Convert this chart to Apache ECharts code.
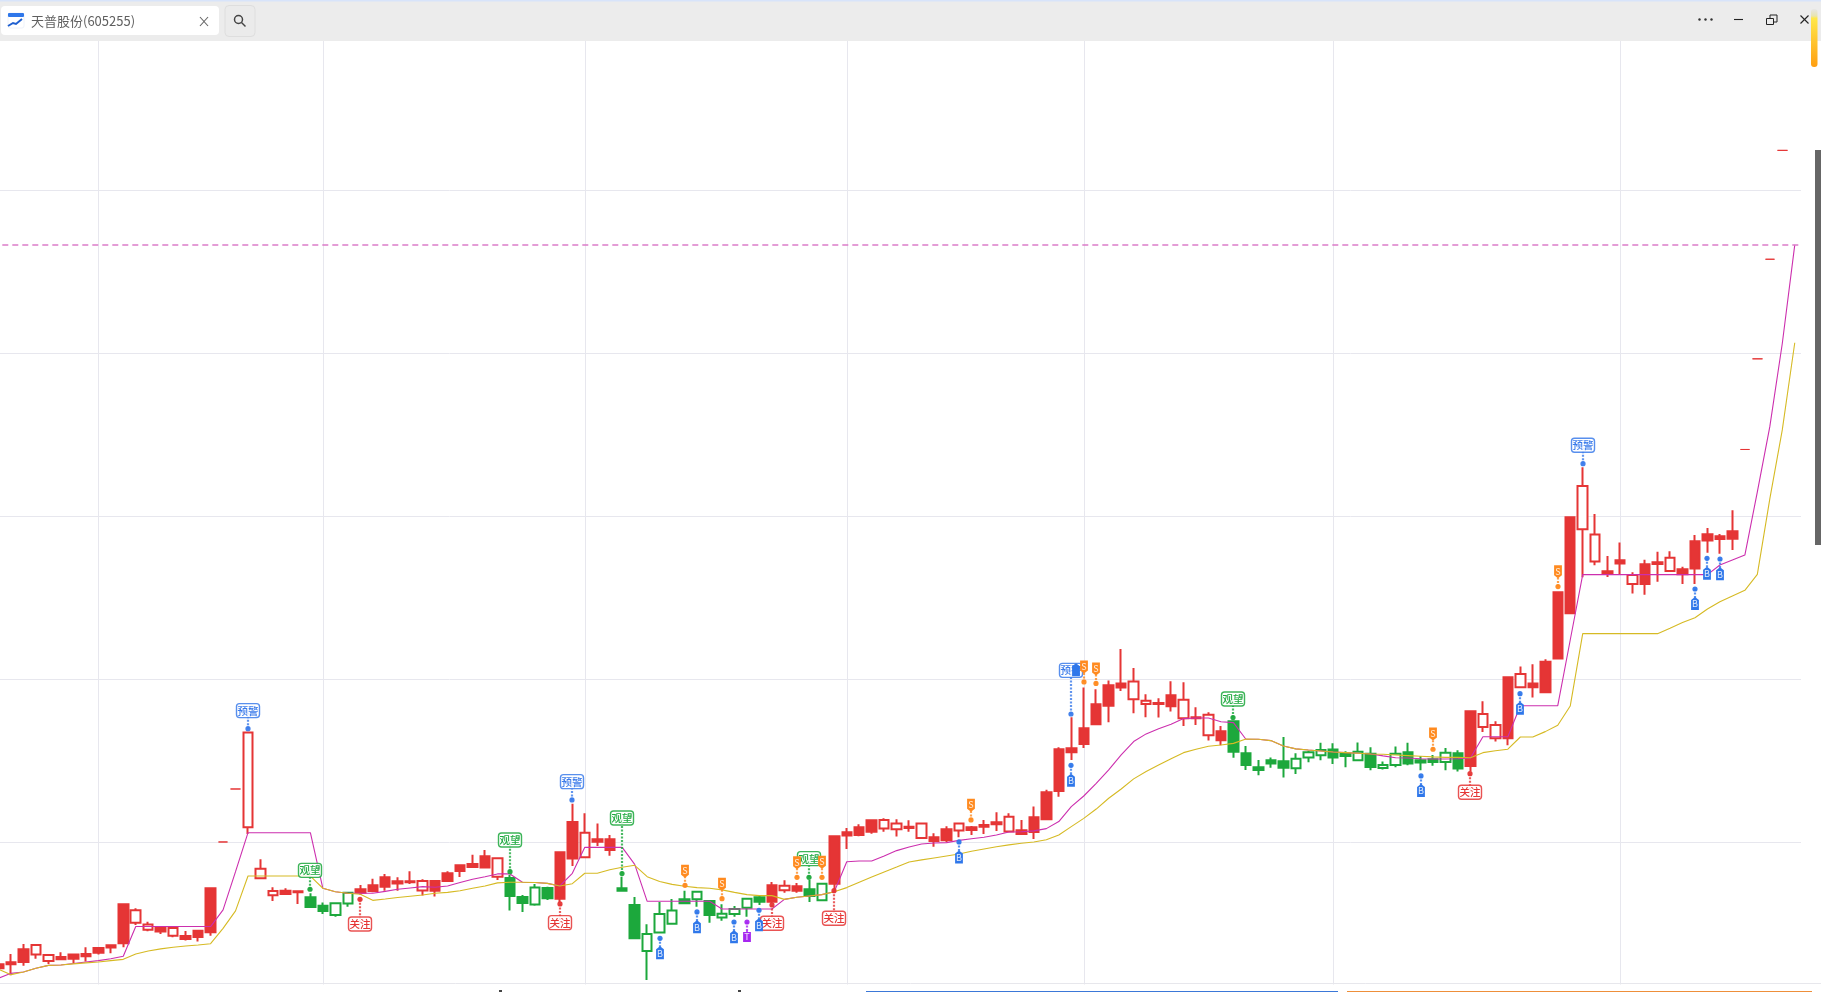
<!DOCTYPE html>
<html>
<head>
<meta charset="utf-8">
<title>天普股份(605255)</title>
<style>html,body{margin:0;padding:0;background:#fff;overflow:hidden}#main{width:1821px;height:992px}</style>
<script src="https://cdn.jsdelivr.net/npm/echarts@6/dist/echarts.min.js"></script>
</head>
<body>
<div id="main"></div>
<script>
const stockTitle = '天普股份(605255)';
const gridDays = [8, 26, 47, 68, 87, 107, 130];
const dashedLevel = 66.65;

const opens = [22.52,22.64,23.44,23.11,22.72,22.97,23.11,23.15,23.52,23.68,
 26.20,25.07,24.64,24.74,24.27,24.25,24.58,27.18,30.02,33.27,
 30.92,27.79,26.75,27.03,26.99,26.63,26.11,25.54,26.24,27.12,
 27.36,27.85,27.61,27.61,27.05,27.63,28.10,28.59,28.67,29.14,
 27.89,27.81,26.65,26.18,27.20,29.39,31.25,29.08,30.18,30.18,
 27.18,26.16,23.33,24.46,25.01,26.50,26.50,26.40,25.38,25.60,
 25.99,26.63,27.36,27.06,27.30,27.12,26.44,30.37,30.61,30.92,
 31.35,30.84,30.80,30.96,30.27,30.31,30.80,30.72,30.92,31.06,
 31.23,30.67,30.74,31.53,33.07,35.71,35.77,36.99,38.47,39.63,
 39.75,38.77,38.49,38.55,39.02,37.61,37.67,36.56,36.81,37.42,
 35.46,34.60,35.03,34.97,34.54,35.21,35.34,35.69,35.42,35.03,
 35.44,34.56,34.74,35.52,35.03,35.09,34.93,35.46,38.04,37.08,
 36.38,40.12,39.51,39.75,41.08,45.34,49.94,49.20,47.22,46.63,
 47.30,45.85,47.06,47.18,46.65,46.75,48.47,48.90,48.77,49.08,
 54.10,59.66,65.77,72.45];
const closes = [22.27,22.52,22.66,23.70,23.09,22.82,22.86,23.01,23.23,23.54,
 23.80,25.83,24.95,24.52,24.74,24.07,24.19,24.48,30.02,33.27,
 36.73,28.38,27.01,26.83,26.93,26.03,25.79,26.26,26.91,26.91,
 27.01,27.28,27.48,27.55,27.63,27.03,27.63,28.24,28.49,28.45,
 29.02,26.71,26.28,27.22,26.56,26.54,29.00,30.59,30.04,29.53,
 27.03,24.11,24.38,25.60,25.81,26.26,26.97,25.54,25.62,25.91,
 26.54,26.36,26.36,27.34,27.03,26.71,27.46,27.46,30.41,30.45,
 30.65,31.37,31.15,30.88,31.15,30.08,30.12,31.15,30.76,30.96,
 31.10,31.57,30.51,30.63,31.41,33.15,35.52,36.03,37.24,38.38,
 39.49,39.86,38.69,38.49,38.34,38.75,37.61,37.83,36.26,35.56,
 34.74,34.44,34.83,34.58,35.13,35.52,35.66,35.21,35.30,35.56,
 34.62,34.74,35.44,34.83,34.89,34.93,35.50,34.52,34.68,37.87,
 37.20,36.38,40.33,39.51,39.20,41.27,44.05,51.86,48.88,46.46,
 47.10,46.40,45.85,47.08,47.46,46.44,46.79,48.51,48.61,48.63,
 54.10,59.66,65.77,72.45];
const lows = [22.17,21.84,22.43,22.86,22.54,22.78,22.58,22.68,23.11,23.19,
 23.56,24.93,24.54,24.38,24.17,23.97,23.91,24.27,30.02,33.27,
 30.51,27.73,26.40,26.77,26.22,26.01,25.60,25.44,26.05,26.77,
 26.93,27.03,27.03,27.44,26.73,26.67,27.59,27.87,28.45,28.43,
 27.69,25.81,25.73,26.11,26.46,26.30,28.55,29.04,29.78,29.18,
 27.03,24.09,21.55,24.42,24.99,26.20,26.05,25.07,25.19,25.44,
 25.44,26.16,26.26,26.91,26.91,26.34,26.38,26.95,29.59,30.37,
 30.53,30.65,30.35,30.65,30.22,29.73,30.02,30.31,30.45,30.51,
 30.70,30.63,30.51,30.20,31.37,32.80,35.05,35.79,37.22,37.36,
 39.28,37.91,37.67,37.65,38.02,37.14,37.20,36.24,35.95,35.19,
 34.44,34.11,34.58,33.97,34.19,34.91,35.03,34.81,34.60,35.01,
 34.42,34.46,34.60,34.72,34.42,34.70,34.42,34.34,34.34,36.77,
 36.18,35.95,39.47,38.88,39.18,41.27,44.03,46.26,46.99,46.28,
 46.42,45.26,45.19,45.99,46.61,45.85,45.85,47.77,47.71,47.93,
 54.10,59.66,65.77,72.45];
const highs = [22.58,23.15,23.76,23.74,23.13,23.25,23.13,23.56,23.58,23.72,
 26.20,25.95,25.13,24.78,24.80,24.56,24.62,27.18,30.02,33.27,
 36.77,28.96,27.24,27.18,26.99,26.87,26.30,26.30,26.95,27.38,
 27.77,28.06,27.85,28.22,27.73,27.67,28.22,28.61,29.24,29.53,
 29.08,28.00,26.77,27.44,27.28,29.39,32.37,31.78,31.15,30.45,
 27.89,26.65,24.97,26.34,26.52,27.03,27.01,26.46,26.20,26.09,
 26.56,26.71,27.57,27.67,27.51,27.69,27.51,30.37,30.88,31.10,
 31.41,31.47,31.41,31.35,31.17,30.55,30.98,31.15,31.00,31.37,
 31.84,31.78,31.37,32.19,33.23,35.83,37.67,39.49,39.39,39.92,
 41.86,40.70,39.08,38.83,39.88,39.82,38.28,37.98,37.14,37.42,
 35.91,35.05,35.21,36.46,35.46,35.62,36.11,36.07,35.58,36.13,
 35.83,34.95,35.87,36.11,35.30,35.36,35.79,35.64,38.04,38.65,
 37.42,40.12,40.78,40.92,41.23,45.34,49.94,53.01,50.14,47.57,
 48.40,46.56,47.34,47.83,47.85,46.91,48.85,49.28,48.92,50.37,
 54.10,59.66,65.77,72.45];
const tones = ('rrrrrrrrrrrrrrrrrrrrrrrrr' + 'gggg' + 'rrrrrrrrrrrr' + 'gggg' + 'rrrrr' +
 'gggggggggggg' + 'rrr' + 'gg' + 'rrrrrrrrrrrrrrrrrrrrrrrrrrrrrrrr' +
 'ggggggggggggggggggg' + 'rrrrrrrrrrrrrrrrrrrrrrrrrr').split('');
const pinkLine = [21.66,21.96,22.04,22.27,22.45,22.47,22.56,22.66,22.74,22.86,
 23.01,24.83,24.83,24.83,24.83,24.83,24.83,24.83,25.85,28.20,
 30.59,30.59,30.59,30.59,30.59,30.59,27.18,26.97,26.87,26.87,
 26.87,26.99,27.12,27.20,27.28,27.24,27.32,27.53,27.73,27.89,
 28.06,28.06,27.55,27.53,27.48,27.32,28.10,29.69,29.69,29.69,
 29.69,28.65,26.38,26.38,26.38,26.38,26.38,26.38,25.91,25.91,
 25.91,25.91,25.91,26.50,26.63,26.71,26.79,26.97,28.81,28.85,
 28.85,29.16,29.49,29.71,29.90,29.96,29.98,30.12,30.22,30.31,
 30.45,30.63,30.65,30.70,30.84,31.27,32.19,32.84,33.62,34.44,
 35.36,36.18,36.65,36.97,37.24,37.59,37.63,37.63,37.40,37.34,
 36.32,36.32,36.24,35.91,35.73,35.66,35.60,35.54,35.50,35.46,
 35.42,35.30,35.19,35.17,35.13,35.11,35.11,35.13,35.17,36.48,
 36.48,36.48,38.38,38.38,38.38,38.38,42.41,46.42,46.42,46.42,
 46.42,46.42,46.42,46.42,46.42,46.42,46.42,46.42,47.01,47.32,
 47.62,51.50,55.50,60.60,66.65];
const yellowLine = [22.21,21.88,22.04,22.27,22.45,22.47,22.54,22.60,22.66,22.74,
 22.82,23.15,23.33,23.46,23.56,23.64,23.70,23.78,24.72,25.79,
 27.93,27.93,27.93,27.93,27.93,27.93,27.18,26.97,26.87,26.81,
 26.44,26.52,26.61,26.69,26.77,26.87,26.93,27.03,27.18,27.32,
 27.51,27.55,27.55,27.53,27.48,27.32,27.46,28.10,28.10,28.32,
 28.47,28.59,27.89,27.59,27.42,27.30,27.22,27.18,27.08,26.93,
 26.79,26.73,26.73,26.50,26.63,26.71,26.79,26.97,27.22,27.55,
 27.87,28.18,28.48,28.79,28.92,29.04,29.16,29.28,29.45,29.59,
 29.73,29.84,29.94,30.02,30.16,30.45,30.96,31.47,32.04,32.70,
 33.27,33.89,34.34,34.74,35.13,35.50,35.71,35.89,35.97,36.07,
 36.34,36.32,36.24,35.91,35.73,35.66,35.60,35.54,35.50,35.46,
 35.42,35.40,35.36,35.32,35.28,35.24,35.21,35.21,35.19,35.50,
 35.62,35.71,36.46,36.46,36.79,37.18,38.36,42.80,42.80,42.80,
 42.80,42.80,42.80,42.80,43.13,43.48,43.78,44.31,44.76,45.11,
 45.46,46.44,51.07,55.30,60.65];

const signalDays  = [20,25,29,41,45,46,50,67,62,65,86,99,118,127,
 53,56,59,60,61,77,114,86,122,136,137,138,86,
 55,58,64,66,78,87,88,115,125];
const signalKinds = ['预警','观望','关注','观望','关注','预警','观望','关注','关注','观望','预警','观望','关注','预警',
 'B','B','B','T','B','B','B','B','B','B','B','B','Bx',
 'S','S','S','S','S','S','S','S','S'];
const signalDots  = [36.97,27.12,26.50,28.20,26.22,32.60,28.08,27.03,26.16,27.85,37.87,37.65,34.21,53.23,
 24.11,25.73,25.11,25.11,25.83,30.02,34.07,34.72,39.12,45.54,47.42,47.38,40.55,
 27.36,26.54,27.85,27.85,31.37,39.84,39.75,35.71,45.69];
const signalTags  = [38.08,28.28,24.99,30.14,25.07,33.72,31.49,25.34,25.03,29.00,40.55,38.79,33.07,54.36,
 23.19,24.79,24.17,24.19,24.91,29.06,33.15,33.78,38.20,44.62,46.48,46.44,40.55,
 28.26,27.46,28.77,28.81,32.31,40.78,40.67,36.67,46.63];

const RED = '#E53535', GREEN = '#1CA83C', PINK = '#CC2FAE', GOLD = '#D6BA24', GRID = '#E7E7EE';
const FONT = '"Noto Sans CJK SC", "Noto Sans", sans-serif';
const kindStyle = {
  '预警': {color:'#3B7BEA', box:true}, '观望': {color:GREEN, box:true}, '关注': {color:RED, box:true},
  'S': {color:'#FF8A1F', pin:'down', text:'S'}, 'B': {color:'#2F77EA', pin:'up', text:'B'},
  'Bx': {color:'#2F77EA', pin:'up', text:'', dx:5}, 'T': {color:'#A626F0', pin:'flat', text:'T'}
};
const categories = pinkLine.map((_, i) => 'D' + i);
const candleData = opens.map((o, i) => {
  const c = tones[i] === 'g' ? GREEN : RED;
  const flat = o === closes[i];
  const fill = closes[i] > o ? '#fff' : c;
  return {
    value: [o, closes[i], lows[i], highs[i]],
    itemStyle: {color:fill, color0:fill, borderColor:c, borderColor0:c, borderColorDoji:c, borderWidth: flat ? 1 : 2}
  };
});
const signalData = signalDays.map((d, i) => [d, signalDots[i], signalTags[i], signalKinds[i]]);

function renderSignal(params, api) {
  const day = api.value(0);
  const kind = signalKinds[params.dataIndex];
  const st = kindStyle[kind];
  const dx = st.dx || 0;
  const dot = api.coord([day, api.value(1)]);
  const tag = api.coord([day, api.value(2)]);
  const x = Math.round(dot[0]) + dx, yd = dot[1], yt = tag[1];
  const kids = [];
  kids.push({type:'line', shape:{x1:x, y1:yd, x2:x, y2:yt}, style:{stroke:st.color, lineWidth:2.2, lineDash:[2,1.5], opacity:0.8}});
  kids.push({type:'circle', shape:{cx:x, cy:yd, r:2.6}, style:{fill:st.color, opacity:0.95}});
  if (st.box) {
    kids.push({type:'rect', shape:{x:x-11.5, y:yt-7, width:23, height:14, r:3}, style:{fill:'#fff', stroke:st.color, lineWidth:1.4, opacity:0.85}});
    kids.push({type:'text', style:{text:kind, x:x, y:yt, align:'center', verticalAlign:'middle', fill:st.color, font:'500 10.5px '+FONT}});
  } else {
    const w = 3.9;
    let pts;
    if (st.pin === 'down') pts = [[x-w,yt-6],[x+w,yt-6],[x+w,yt+4],[x,yt+7],[x-w,yt+4]];
    else if (st.pin === 'up') pts = [[x,yt-7],[x+w,yt-4],[x+w,yt+6],[x-w,yt+6],[x-w,yt-4]];
    else pts = [[x-w,yt-5],[x-1,yt-5],[x,yt-7],[x+1,yt-5],[x+w,yt-5],[x+w,yt+5],[x-w,yt+5]];
    kids.push({type:'polygon', shape:{points:pts}, style:{fill:st.color}});
    if (st.text) kids.push({type:'text', style:{text:st.text, x:x, y:yt, align:'center', verticalAlign:'middle', fill:'#fff', opacity:0.85, font:'9px '+FONT}});
  }
  return {type:'group', children:kids};
}

const chart = echarts.init(document.getElementById('main'), null, {renderer:'canvas'});
const barZ = 100;
chart.setOption({
  animation:false,
  backgroundColor:'#fff',
  grid:{left:-7.7, top:27.3, width:1808.7, height:978, containLabel:false, outerBoundsMode:'none'},
  xAxis:{
    type:'category', data:categories, boundaryGap:true,
    axisLine:{show:false}, axisTick:{show:false}, axisLabel:{show:false},
    splitLine:{show:true, alignWithLabel:true, interval:(i)=>gridDays.includes(i), lineStyle:{color:GRID, width:1}}
  },
  yAxis:{
    type:'value', min:20, max:80, interval:10, scale:true,
    axisLine:{show:false}, axisTick:{show:false}, axisLabel:{show:false},
    splitLine:{show:true, lineStyle:{color:GRID, width:1}}
  },
  tooltip:{show:false},
  series:[
    {type:'candlestick', name:'K', data:candleData, barWidth:10, z:2, clip:true},
    {type:'line', name:'pink', data:pinkLine, showSymbol:false, symbol:'none', smooth:false, z:3,
      lineStyle:{color:PINK, width:1.1},
      markLine:{silent:true, symbol:'none', label:{show:false}, animation:false,
        lineStyle:{color:'#DC7CC9', width:1.5, type:[6,4]}, data:[{yAxis:dashedLevel}]}},
    {type:'line', name:'gold', data:yellowLine, showSymbol:false, symbol:'none', smooth:false, z:3,
      lineStyle:{color:GOLD, width:1.1}},
    {type:'custom', name:'signals', data:signalData, renderItem:renderSignal, z:5, clip:false,
      encode:{x:0, y:1}}
  ],
  graphic:[
    {type:'rect', z:barZ, shape:{x:0,y:984.5,width:1821,height:8}, style:{fill:'#fff'}},
    {type:'line', z:barZ, shape:{x1:0,y1:983.5,x2:1821,y2:983.5}, style:{stroke:'#E7E7EC', lineWidth:1}},
    {type:'rect', z:barZ, shape:{x:866,y:991,width:472,height:1}, style:{fill:'#3B78D8'}},
    {type:'rect', z:barZ, shape:{x:1347,y:991,width:465,height:1}, style:{fill:'#EE8F3A'}},
    {type:'rect', z:barZ, shape:{x:499,y:990,width:3,height:2}, style:{fill:'#444'}},
    {type:'rect', z:barZ, shape:{x:738,y:990,width:3,height:2}, style:{fill:'#444'}},
    {type:'rect', z:barZ, shape:{x:0,y:0,width:1821,height:41}, style:{fill:'#ECECEC'}},
    {type:'rect', z:barZ, shape:{x:0,y:0,width:1821,height:1.5}, style:{fill:'#D8E4FA'}},
    {type:'rect', z:barZ, shape:{x:1,y:6,width:218,height:29,r:4}, style:{fill:'#fff'}},
    {type:'rect', z:barZ, shape:{x:8,y:13,width:16,height:15,r:2}, style:{fill:'#fff', stroke:'#EEF2FA', lineWidth:1}},
    {type:'rect', z:barZ, shape:{x:8,y:13,width:16,height:4,r:1}, style:{fill:'#2F77EA'}},
    {type:'polyline', z:barZ, shape:{points:[[8,26],[13,23],[16,24],[22,19]]}, style:{stroke:'#1E5FD0', lineWidth:2, fill:null}},
    {type:'text', z:barZ, style:{text:stockTitle, x:31, y:21.5, align:'left', verticalAlign:'middle', fill:'#5F5F5F', font:'13px '+FONT}},
    {type:'line', z:barZ, shape:{x1:200,y1:17,x2:208,y2:26}, style:{stroke:'#666', lineWidth:1.1}},
    {type:'line', z:barZ, shape:{x1:208,y1:17,x2:200,y2:26}, style:{stroke:'#666', lineWidth:1.1}},
    {type:'rect', z:barZ, shape:{x:225,y:5.5,width:30,height:31,r:4}, style:{fill:'#EBEBEB', stroke:'#DEDEDE', lineWidth:1}},
    {type:'circle', z:barZ, shape:{cx:238.5,cy:19.5,r:4}, style:{fill:null, stroke:'#444', lineWidth:1.5}},
    {type:'line', z:barZ, shape:{x1:241.5,y1:22.5,x2:245.5,y2:26.5}, style:{stroke:'#444', lineWidth:1.5}},
    {type:'circle', z:barZ, shape:{cx:1699.5,cy:19.5,r:1.2}, style:{fill:'#333'}},
    {type:'circle', z:barZ, shape:{cx:1705.5,cy:19.5,r:1.2}, style:{fill:'#333'}},
    {type:'circle', z:barZ, shape:{cx:1711.5,cy:19.5,r:1.2}, style:{fill:'#333'}},
    {type:'line', z:barZ, shape:{x1:1734,y1:19.5,x2:1743,y2:19.5}, style:{stroke:'#222', lineWidth:1.1}},
    {type:'rect', z:barZ, shape:{x:1770,y:15,width:7,height:7}, style:{fill:'#ECECEC', stroke:'#222', lineWidth:1}},
    {type:'rect', z:barZ, shape:{x:1766.5,y:18.5,width:7,height:6}, style:{fill:'#ECECEC', stroke:'#222', lineWidth:1}},
    {type:'line', z:barZ, shape:{x1:1800.5,y1:15.5,x2:1808.5,y2:23.5}, style:{stroke:'#222', lineWidth:1.1}},
    {type:'line', z:barZ, shape:{x1:1808.5,y1:15.5,x2:1800.5,y2:23.5}, style:{stroke:'#222', lineWidth:1.1}},
    {type:'rect', z:barZ, shape:{x:1811,y:9,width:6.5,height:58,r:3}, style:{fill:{type:'linear',x:0,y:0,x2:0,y2:1,colorStops:[
      {offset:0,color:'#E6E6E6'},{offset:0.12,color:'#E8E4B0'},{offset:0.16,color:'#FFE84A'},{offset:1,color:'#FF9F12'}]}}},
    {type:'rect', z:barZ, shape:{x:1815,y:150,width:6,height:395}, style:{fill:'#666'}}
  ]
});
</script>
</body>
</html>
